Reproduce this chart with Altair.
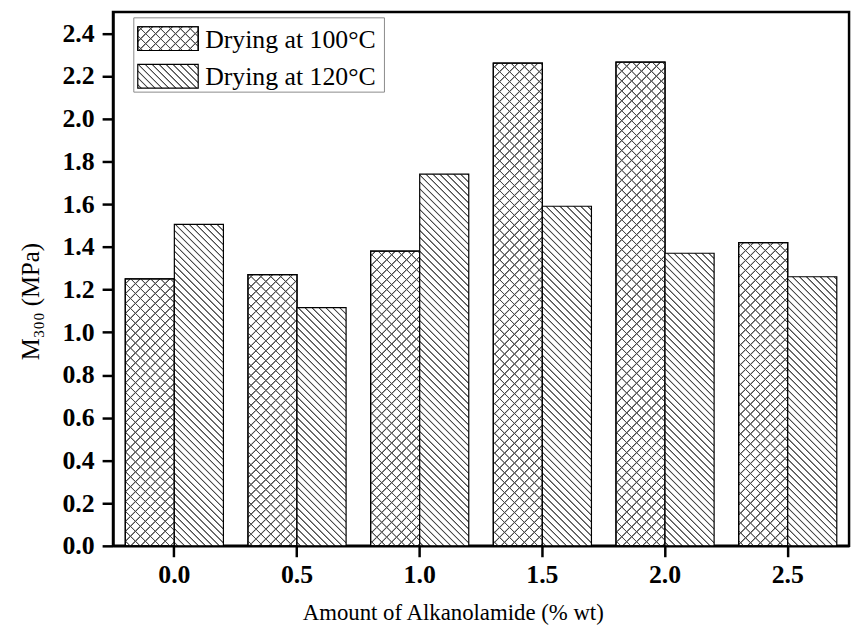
import altair as alt
import pandas as pd

# ---- data ----
amounts = ["0.0", "0.5", "1.0", "1.5", "2.0", "2.5"]
series_keys = ["100", "120"]
series_names = ["Drying at 100°C", "Drying at 120°C"]
m300_100 = [1.25, 1.27, 1.38, 2.26, 2.265, 1.42]
m300_120 = [1.505, 1.115, 1.74, 1.59, 1.37, 1.26]

W, H = 743, 539
YMAX = 2.5
FONT = "Liberation Serif"

rows = []
for i, a in enumerate(amounts):
    rows.append({"idx": i, "amount": a, "series": "100", "value": m300_100[i]})
    rows.append({"idx": i, "amount": a, "series": "120", "value": m300_120[i]})
df = pd.DataFrame(rows)

BAR_W = W / len(amounts) * 0.8 / 2
LINE = "#4a4a4a"
CLEAR = "rgba(255,255,255,0)"


def hatch(w, h, period, direction, bg):
    """Linear gradient with many stops that draws 45-degree hatch lines."""
    L = w + h
    r = h / w
    a = (1 + r) / (1 + r * r)
    if direction == "/":
        x1, y1, x2, y2 = 0, 0, a, a * r
    else:
        x1, y1, x2, y2 = 0, 1, a, 1 - a * r
    stops = [{"offset": 0, "color": bg}]
    last = 0.0
    c = period / 2
    while c - 1.2 < L:
        for off, col in ((c - 1.2, bg), (c - 0.35, LINE), (c + 0.35, LINE), (c + 1.2, bg)):
            t = min(max(off / L, 0.0), 1.0)
            if t < last:
                t = last
            stops.append({"offset": round(t, 6), "color": col})
            last = t
        c += period
    stops.append({"offset": 1, "color": bg})
    return {"gradient": "linear", "x1": x1, "y1": y1, "x2": x2, "y2": y2, "stops": stops}


x_enc = alt.X(
    "amount:N",
    scale=alt.Scale(domain=amounts, paddingInner=0.2, paddingOuter=0.1),
    axis=alt.Axis(
        title="Amount of Alkanolamide (% wt)",
        labelAngle=0,
        labelBaseline="alphabetic",
        labelPadding=26,
        titleX=343,
        titleY=74,
        titleAlign="center",
        titleBaseline="alphabetic",
    ),
)
xo_enc = alt.XOffset("series:N", scale=alt.Scale(domain=series_keys, paddingInner=0, paddingOuter=0))
y_enc = alt.Y(
    "value:Q",
    scale=alt.Scale(domain=[0, YMAX], nice=False, zero=True),
    axis=alt.Axis(
        title="M₃₀₀ (MPa)",
        values=[round(0.2 * k, 1) for k in range(13)],
        format=".1f",
        labelPadding=8,
        titleX=-83,
        titleY=292,
        titleAngle=-90,
        titleAlign="center",
        titleBaseline="middle",
        titleFontSize=25,
    ),
)


def bar_layer(i, s, fill):
    return (
        alt.Chart(df)
        .transform_filter((alt.datum.idx == i) & (alt.datum.series == s))
        .mark_bar(fill=fill, stroke="black", strokeWidth=1.2)
        .encode(x=x_enc, xOffset=xo_enc, y=y_enc)
    )


layers = []
for i in range(len(amounts)):
    h100 = m300_100[i] / YMAX * H
    h120 = m300_120[i] / YMAX * H
    layers.append(bar_layer(i, "100", hatch(BAR_W, h100, 10, "/", "white")))
    layers.append(bar_layer(i, "100", hatch(BAR_W, h100, 10, "\\", CLEAR)))
    layers.append(bar_layer(i, "120", hatch(BAR_W, h120, 7, "\\", "white")))

# ---- manual legend (hatched swatches) ----
one = pd.DataFrame({"k": [0]})
legend_box = alt.Chart(one).mark_rect(fill="white", stroke="#8a8a8a", strokeWidth=1).encode(
    x=alt.value(21), x2=alt.value(274), y=alt.value(6), y2=alt.value(81)
)
sw_w, sw_h = 61, 24
sw1a = alt.Chart(one).mark_rect(fill=hatch(sw_w, sw_h, 10, "/", "white"), stroke="black", strokeWidth=1.2).encode(
    x=alt.value(25), x2=alt.value(86), y=alt.value(15), y2=alt.value(39)
)
sw1b = alt.Chart(one).mark_rect(fill=hatch(sw_w, sw_h, 10, "\\", CLEAR), stroke="black", strokeWidth=1.2).encode(
    x=alt.value(25), x2=alt.value(86), y=alt.value(15), y2=alt.value(39)
)
sw2 = alt.Chart(one).mark_rect(fill=hatch(sw_w, sw_h, 7, "\\", "white"), stroke="black", strokeWidth=1.2).encode(
    x=alt.value(25), x2=alt.value(86), y=alt.value(53), y2=alt.value(77)
)
txt1 = alt.Chart(one).mark_text(align="left", baseline="alphabetic", font=FONT, fontSize=26, color="black").encode(
    x=alt.value(93), y=alt.value(36), text=alt.value(series_names[0])
)
txt2 = alt.Chart(one).mark_text(align="left", baseline="alphabetic", font=FONT, fontSize=26, color="black").encode(
    x=alt.value(93), y=alt.value(74), text=alt.value(series_names[1])
)

chart = (
    alt.layer(*layers, legend_box, sw1a, sw1b, sw2, txt1, txt2)
    .properties(
        width=W,
        height=H,
        autosize=alt.AutoSizeParams(type="none"),
        padding={"left": 106, "top": 1, "right": 6, "bottom": 80},
    )
    .configure_view(stroke="black", strokeWidth=2.5)
    .configure_axis(
        grid=False,
        domainColor="black",
        domainWidth=2.5,
        tickColor="black",
        tickWidth=2.5,
        tickSize=11,
        labelFont=FONT,
        labelFontWeight="bold",
        labelFontSize=26,
        labelColor="black",
        titleFont=FONT,
        titleFontWeight="normal",
        titleFontSize=23,
        titleColor="black",
    )
)

chart.save("out.html", embed_options={"renderer": "svg", "actions": False})
